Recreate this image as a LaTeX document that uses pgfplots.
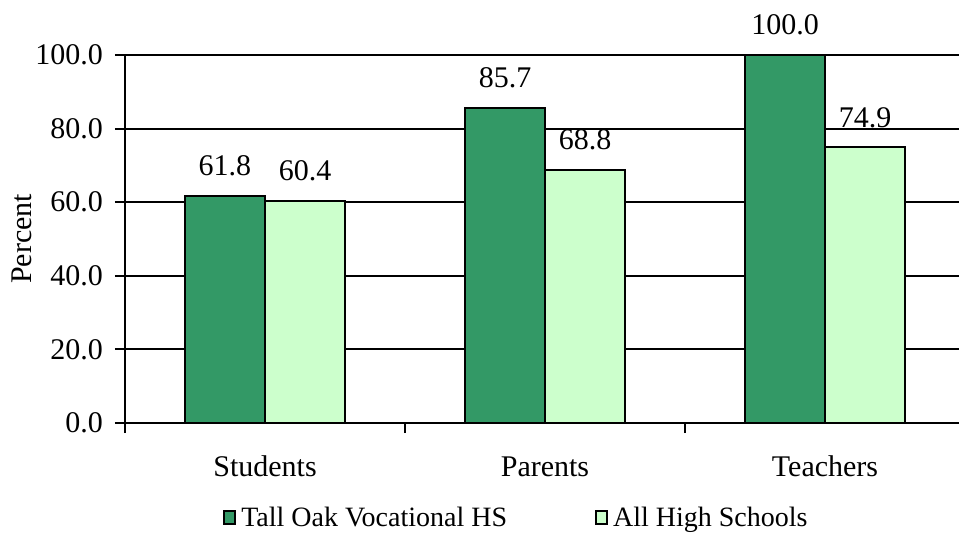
\documentclass[border=0pt]{standalone}
\usepackage{pgfplots}
\pgfplotsset{compat=1.18}
\usepackage{fontspec}
\setmainfont{Liberation Serif}
\definecolor{darkg}{HTML}{339966}
\definecolor{lightg}{HTML}{CCFFCC}
\begin{document}
\begin{tikzpicture}
\begin{axis}[
  at={(125pt,110pt)}, anchor=south west,
  scale only axis, width=840pt, height=368pt,
  xmin=-0.5, xmax=2.5, ymin=0, ymax=100,
  axis x line*=bottom, axis y line*=left,
  axis line style={line width=2pt},
  every tick/.style={black, line width=2pt},
  tick align=outside, major tick length=10pt,
  xtick={-0.5,0.5,1.5}, xticklabels={},
  extra x ticks={0,1,2},
  extra x tick labels={Students,Parents,Teachers},
  extra x tick style={major tick length=0pt, xticklabel style={inner sep=0pt, anchor=base, yshift=-53pt}},
  ytick={0,20,40,60,80,100},
  /pgf/number format/fixed, /pgf/number format/fixed zerofill, /pgf/number format/precision=1,
  /pgf/number format/assume math mode=true,
  yticklabel style={inner sep=0pt, xshift=-12pt},
  ymajorgrids, grid style={black, line width=2pt}, major grid style={black, line width=2pt},
  font=\fontsize{30}{36}\selectfont,
  ylabel={Percent},
  ylabel style={at={(axis description cs:-0.123,0.5)}, anchor=center},
  ybar, bar width=80pt,
  clip=false,
  nodes near coords,
  every node near coord/.append style={black, inner sep=0pt, anchor=base, yshift=20pt},
  legend columns=2,
  legend style={draw=none, fill=none, at={(axis description cs:0.466,-0.257)}, anchor=center,
    /tikz/every even column/.append style={column sep=86pt}, font=\fontsize{28}{34}\selectfont},
  legend image code/.code={\draw[#1, draw=black, line width=2pt] (0pt,-6pt) rectangle (11pt,7pt); \path (14pt,0pt);},
]
\addplot[fill=darkg, draw=black, line width=2pt, bar shift=-40pt] coordinates {(0,61.8) (1,85.7) (2,100.0)};
\addplot[fill=lightg, draw=black, line width=2pt, bar shift=40pt] coordinates {(0,60.4) (1,68.8) (2,74.9)};
\legend{Tall Oak Vocational HS, All High Schools}
\end{axis}
\pgfresetboundingbox
\useasboundingbox (0,0) rectangle (959pt,533pt);
\end{tikzpicture}
\end{document}
